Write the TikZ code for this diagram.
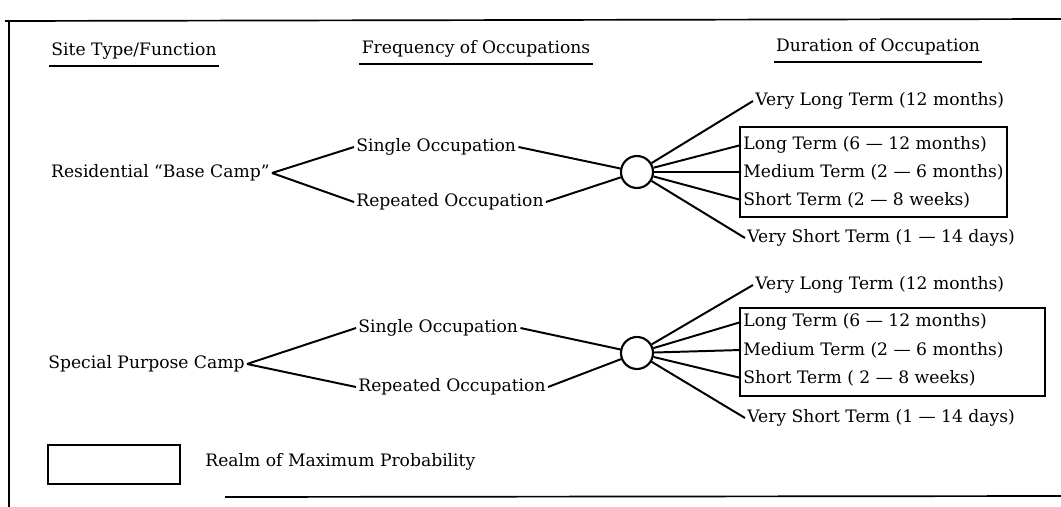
\documentclass[tikz,border=0pt]{standalone}
\usepackage{fontspec}
\setmainfont{DejaVu Serif}
\usetikzlibrary{positioning}

\begin{document}
\begin{tikzpicture}[x=0.025cm, y=-0.025cm, line width=1.4pt]
\tikzset{
    lbl/.style= {inner sep=1pt, font=\fontsize{12.2}{14}\selectfont},
    hub/.style= {circle, draw=black, line width=1.5pt, minimum size=0.8cm, inner sep=0pt},
    realm/.style= {draw=black, line width=1.4pt},
    uline/.style= {line width=1.1pt},
}
\useasboundingbox (0,0) rectangle (1061,507);

% frame
\draw[line width=1.2pt] (5,21) -- (1061,19);
\draw[line width=1.2pt] (9,21) -- (9,507);
\draw[line width=1.2pt] (225,497) -- (1061,496);

% column heads
\node[lbl] (hsite) at (134,51) {Site Type/Function};
\node[lbl] (hfreq) at (476,49) {Frequency of Occupations};
\node[lbl] (hdur) at (878,47) {Duration of Occupation};
\draw[uline] ([yshift=-3pt]hsite.south west) -- ([yshift=-3pt]hsite.south east);
\draw[uline] ([yshift=-3pt]hfreq.south west) -- ([yshift=-3pt]hfreq.south east);
\draw[uline] ([yshift=-3pt]hdur.south west) -- ([yshift=-3pt]hdur.south east);

% residential base camp
\node[lbl, anchor=east] (res) at (272,173) {Residential “Base Camp”};
\node[lbl, anchor=west] (sing1) at (354,147) {Single Occupation};
\node[lbl, anchor=west] (rep1) at (354,202) {Repeated Occupation};
\node[hub] (c1) at (637,172) {};
\node[lbl, anchor=west] (vl1) at (753,101) {Very Long Term (12 months)};
\node[lbl, anchor=west] (l1) at (741,145) {Long Term (6 — 12 months)};
\node[lbl, anchor=west] (m1) at (741,172) {Medium Term (2 — 6 months)};
\node[lbl, anchor=west] (s1) at (741,200) {Short Term (2 — 8 weeks)};
\node[lbl, anchor=west] (vs1) at (745,238) {Very Short Term (1 — 14 days)};
\draw[realm] (740,127) rectangle (1007,217);

% special purpose camp
\node[lbl, anchor=east] (spc) at (247,364) {Special Purpose Camp};
\node[lbl, anchor=west] (sing2) at (356,328) {Single Occupation};
\node[lbl, anchor=west] (rep2) at (356,387) {Repeated Occupation};
\node[hub] (c2) at (637,353) {};
\node[lbl, anchor=west] (vl2) at (753,285) {Very Long Term (12 months)};
\node[lbl, anchor=west] (l2) at (741,322) {Long Term (6 — 12 months)};
\node[lbl, anchor=west] (m2) at (741,350) {Medium Term (2 — 6 months)};
\node[lbl, anchor=west] (s2) at (741,378) {Short Term ( 2 — 8 weeks)};
\node[lbl, anchor=west] (vs2) at (745,418) {Very Short Term (1 — 14 days)};
\draw[realm] (740,308) rectangle (1045,396);

\draw
(res.east) -- (sing1.west)
(res.east) -- (rep1.west)
(sing1.east) -- (c1)
(rep1.east) -- (c1)
(c1) -- (vl1.west)
(c1) -- (l1.west)
(c1) -- (m1.west)
(c1) -- (s1.west)
(c1) -- (vs1.west)
(spc.east) -- (sing2.west)
(spc.east) -- (rep2.west)
(sing2.east) -- (c2)
(rep2.east) -- (c2)
(c2) -- (vl2.west)
(c2) -- (l2.west)
(c2) -- (m2.west)
(c2) -- (s2.west)
(c2) -- (vs2.west);

% legend
\draw[realm] (48,445) rectangle (180,484);
\node[lbl, anchor=west] (realmtxt) at (203,462) {Realm of Maximum Probability};
\end{tikzpicture}
\end{document}
